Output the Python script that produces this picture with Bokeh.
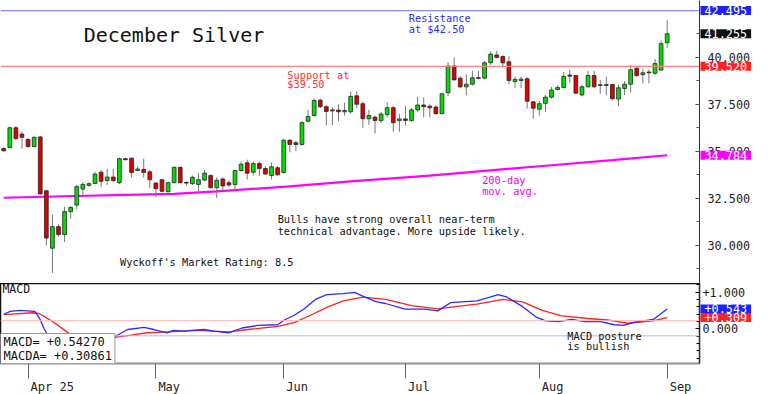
from bokeh.plotting import figure
from bokeh.layouts import column
from bokeh.models import (ColumnDataSource, Range1d, FixedTicker, Span, Label,
                          NumeralTickFormatter)
from bokeh.embed import file_html
from bokeh.resources import INLINE

# ---------------- data ----------------
month_labels = ["Apr 25", "May", "Jun", "Jul", "Aug", "Sep"]
month_start_idx = [4, 25, 46, 66, 88, 109]   # trading-day index of first session in month

opens = [35.14, 35.19, 36.25, 35.91, 35.62, 35.25, 35.76, 32.89, 29.83, 30.98,
         30.56, 31.78, 32.13, 32.98, 33.18, 33.28, 33.88, 33.44, 33.62, 33.32,
         34.60, 34.63, 33.97, 34.03, 33.90, 33.30, 33.48, 32.84, 33.32, 34.14,
         33.34, 33.27, 33.23, 33.46, 33.71, 33.06, 33.52, 33.32, 33.23, 33.97,
         34.38, 33.88, 34.34, 34.08, 33.71, 34.12, 33.87, 35.58, 35.45, 35.36,
         36.60, 36.90, 37.72, 37.37, 37.20, 37.19, 37.10, 37.10, 37.95, 37.53,
         36.73, 36.81, 36.64, 36.95, 37.32, 36.63, 36.72, 36.63, 37.20, 37.46,
         37.40, 37.35, 37.00, 38.12, 39.54, 38.89, 38.43, 38.57, 38.92, 38.89,
         39.71, 40.13, 40.05, 39.76, 38.72, 38.77, 38.86, 37.63, 37.24, 37.55,
         37.88, 38.29, 38.39, 39.06, 39.03, 38.00, 38.43, 39.03, 38.54, 38.50,
         38.55, 37.78, 38.34, 38.57, 39.42, 39.08, 39.22, 39.15, 39.32, 40.78]
closes = [35.02, 36.25, 35.67, 35.74, 35.25, 35.74, 32.72, 30.37, 30.98, 30.56,
          31.78, 32.00, 33.11, 33.23, 33.27, 33.78, 33.40, 33.62, 33.44, 34.60,
          34.55, 33.87, 34.05, 33.87, 33.48, 33.00, 32.86, 33.32, 34.14, 33.32,
          33.30, 33.61, 33.48, 33.83, 33.06, 33.45, 33.15, 33.20, 33.97, 34.31,
          33.83, 34.34, 34.08, 33.78, 34.17, 33.74, 35.58, 35.36, 35.36, 36.52,
          36.85, 37.70, 37.37, 37.12, 37.15, 37.10, 37.17, 37.92, 37.50, 36.73,
          36.90, 36.64, 36.98, 37.32, 36.52, 36.72, 36.64, 37.20, 37.46, 37.37,
          37.32, 37.00, 38.06, 39.54, 38.80, 38.43, 38.57, 38.91, 38.88, 39.71,
          40.17, 40.00, 39.71, 38.77, 38.82, 38.84, 37.66, 37.29, 37.53, 37.88,
          38.26, 38.39, 38.99, 39.00, 38.09, 38.43, 39.03, 38.43, 38.50, 38.55,
          37.80, 38.38, 38.57, 39.34, 39.03, 39.18, 39.18, 39.67, 40.73, 41.255]
highs = [35.20, 36.30, 36.32, 36.04, 35.72, 35.78, 35.80, 32.95, 31.62, 31.10,
         32.04, 32.08, 33.20, 33.35, 33.35, 33.90, 34.00, 34.05, 34.05, 34.66,
         34.66, 34.66, 34.20, 34.60, 34.00, 33.35, 33.50, 33.40, 34.17, 34.17,
         33.40, 33.70, 33.83, 34.00, 33.75, 33.60, 33.60, 33.45, 34.00, 34.45,
         34.55, 34.45, 34.45, 34.20, 34.40, 34.20, 35.65, 35.65, 35.55, 36.60,
         37.20, 37.80, 37.80, 37.45, 37.35, 37.50, 37.60, 38.17, 38.20, 37.65,
         37.20, 36.90, 37.10, 37.60, 37.40, 36.99, 37.40, 37.30, 37.90, 37.87,
         37.50, 37.45, 38.12, 39.75, 40.00, 39.00, 39.10, 39.28, 39.28, 39.82,
         40.32, 40.34, 40.10, 40.05, 38.98, 38.98, 38.94, 37.65, 37.67, 38.00,
         38.43, 38.50, 39.23, 39.35, 39.06, 38.55, 39.28, 39.28, 38.80, 38.98,
         38.60, 38.55, 38.73, 39.59, 39.47, 39.40, 39.35, 39.92, 40.90, 41.97]
lows = [34.98, 35.15, 35.60, 35.14, 35.18, 35.20, 32.70, 29.99, 28.51, 30.45,
        30.16, 31.40, 31.90, 32.70, 33.10, 33.28, 33.10, 33.20, 33.35, 33.25,
        34.50, 33.60, 33.97, 33.60, 33.05, 32.55, 32.84, 32.80, 33.30, 33.30,
        33.15, 33.20, 32.80, 33.40, 33.00, 32.50, 32.90, 33.10, 32.98, 33.90,
        33.49, 33.70, 33.70, 33.75, 33.50, 33.70, 33.80, 34.94, 35.00, 35.30,
        36.54, 36.85, 37.30, 36.39, 36.39, 36.60, 36.90, 37.00, 37.30, 36.25,
        36.40, 35.96, 36.50, 36.80, 36.04, 36.04, 36.36, 36.56, 37.10, 36.81,
        36.81, 36.95, 36.98, 37.93, 38.77, 38.36, 37.97, 38.50, 38.83, 38.83,
        39.60, 39.96, 39.45, 38.57, 38.37, 38.37, 37.27, 36.73, 36.90, 37.10,
        37.80, 38.25, 38.39, 38.63, 38.09, 37.92, 38.40, 38.38, 38.05, 37.98,
        37.70, 37.40, 37.98, 38.12, 38.97, 38.62, 38.62, 39.08, 39.32, 40.51]

# 200-day moving average (read at selected sessions)
ma_idx = [0, 10, 20, 28, 35, 46, 57, 70, 80, 90, 100, 109]
ma_val = [32.52, 32.60, 32.67, 32.73, 32.86, 33.10, 33.39, 33.70, 33.98, 34.25, 34.52, 34.784]

# MACD (blue) and MACDA (red)
macd_x = [0, 1.08, 2.69, 5.1, 5.9, 6.7, 7.51, 9.12, 11.53, 13.95, 15.55, 17.16, 17.97,
          20.38, 23.07, 24.67, 26.81, 27.89, 29.5, 32.93, 34.53, 36.95, 39.15, 41.77,
          44.99, 46.11, 47.72, 49.33, 51.21, 53.08, 55.77, 57.65, 58.99, 61.12, 62.73,
          65.95, 69.17, 71.32, 73.46, 77.76, 79.89, 81.23, 82.58, 85.25, 87.41, 89.02,
          91.16, 93.3, 95.45, 98.12, 100.27, 101.88, 103.49, 106.71, 109.0]
macd_val = [0.398, 0.476, 0.502, 0.476, 0.283, -0.018, -0.237, -0.504, -0.608, -0.530,
            -0.374, -0.278, -0.237, -0.018, 0.042, -0.018, -0.107, -0.044, -0.062, -0.018,
            -0.062, -0.107, 0.023, 0.094, 0.112, 0.242, 0.372, 0.543, 0.803, 0.933, 0.959,
            0.996, 0.892, 0.744, 0.692, 0.536, 0.536, 0.491, 0.718, 0.762, 0.866, 0.933,
            0.874, 0.606, 0.328, 0.216, 0.198, 0.257, 0.198, 0.198, 0.112, 0.094, 0.179,
            0.257, 0.543]
macda_x = [0, 4.83, 5.9, 8.04, 10.2, 11.53, 13.14, 15.55, 17.97, 20.91, 23.6, 26.28,
           31.64, 36.99, 40.21, 45.04, 47.72, 50.41, 53.08, 55.77, 58.99, 62.73, 67.03,
           71.32, 74.54, 77.76, 82.03, 85.25, 88.47, 91.69, 95.98, 99.2, 102.41, 106.71,
           109.0]
macda_val = [0.387, 0.439, 0.413, 0.198, -0.062, -0.237, -0.296, -0.270, -0.237, -0.174,
             -0.107, -0.088, -0.044, -0.081, -0.018, 0.068, 0.172, 0.372, 0.588, 0.762,
             0.866, 0.803, 0.632, 0.543, 0.614, 0.673, 0.803, 0.736, 0.502, 0.354, 0.283,
             0.242, 0.153, 0.216, 0.309]

resistance = 42.495
support = 39.52
last_close = 41.255
ma_last = 34.784
macd_last = 0.543
macda_last = 0.309
macd_text = "+0.54270"
macda_text = "+0.30861"

# ---------------- layout constants ----------------
FONT = "DejaVu Sans Mono"
FW, H1, H2, BB, RB = 699, 283, 80, 15, 53
X0, X1 = -0.53, 114.31

idx = list(range(len(opens)))
colors = ["#00e000" if c > o else "#e00000" for o, c in zip(opens, closes)]
src = ColumnDataSource(dict(x=idx, top=[max(o, c) for o, c in zip(opens, closes)],
                            bottom=[min(o, c) for o, c in zip(opens, closes)],
                            high=highs, low=lows, color=colors))

# ---------------- price panel ----------------
p = figure(frame_width=FW, frame_height=H1, x_range=Range1d(X0, X1),
           y_range=Range1d(27.95, 43.03), x_axis_location=None, y_axis_location="right",
           toolbar_location=None, output_backend="svg", min_border_left=0,
           min_border_right=RB, min_border_top=0, min_border_bottom=0,
           outline_line_color=None, background_fill_color="white")
p.grid.visible = False

p.add_layout(Span(location=resistance, dimension="width", line_color="#8a8aff", line_width=1.2))
p.add_layout(Span(location=support, dimension="width", line_color="#ff8080", line_width=1.2))

p.line(ma_idx, ma_val, line_color="#ff00ff", line_width=2.2)
p.segment(x0="x", y0="low", x1="x", y1="high", source=src, line_color="#777777", line_width=1)
p.vbar(x="x", width=0.62, top="top", bottom="bottom", source=src, fill_color="color",
       line_color="#222222", line_width=0.8)

ya = p.yaxis[0]
ya.ticker = FixedTicker(ticks=[30, 32.5, 35, 37.5, 40],
                        minor_ticks=[28.75 + 1.25 * k for k in range(12)])
ya.formatter = NumeralTickFormatter(format="0.000")
ya.major_label_text_font = FONT
ya.major_label_text_font_size = "11.8px"
ya.major_label_text_color = "#222222"
ya.major_tick_in, ya.major_tick_out = 4, 0
ya.minor_tick_in, ya.minor_tick_out = 3, 0
ya.axis_line_color = "#333333"
ya.major_tick_line_color = "#333333"
ya.minor_tick_line_color = "#555555"
ya.major_label_standoff = 8


def note(fig, x, y, text, color="#111111", size="10.3px"):
    fig.add_layout(Label(x=x, y=y, text=text, text_color=color, text_font=FONT,
                         text_font_size=size, text_align="left", text_baseline="middle"))


def tag(fig, y, text, bg):
    # value box drawn over the right-hand axis (placed in the side panel so it is not clipped)
    fig.add_layout(Label(x=X1, y=y, x_offset=1, text=text, text_color="white",
                         text_font=FONT, text_font_size="11.8px", text_align="left",
                         text_baseline="middle", background_fill_color=bg,
                         padding=(4, 0)), "right")


note(p, 13.14, 41.19, "December Silver", "#111111", "20px")
note(p, 66.54, 42.11, "Resistance", "#2a2aff")
note(p, 66.54, 41.52, "at $42.50", "#2a2aff")
note(p, 46.6, 39.07, "Support at", "#ff3030")
note(p, 46.6, 38.58, "$39.50", "#ff3030")
note(p, 78.6, 33.47, "200-day", "#ee00ee")
note(p, 78.6, 32.88, "mov. avg.", "#ee00ee")
note(p, 45.0, 31.37, "Bulls have strong overall near-term")
note(p, 45.0, 30.76, "technical advantage. More upside likely.")
note(p, 19.1, 29.07, "Wyckoff's Market Rating: 8.5")

tag(p, resistance, f"{resistance:.3f}", "#2020ff")
tag(p, last_close, f"{last_close:.3f}", "#111111")
tag(p, support, f"{support:.3f}", "#ff2020")
tag(p, ma_last, f"{ma_last:.3f}", "#ff00ff")

# ---------------- MACD panel ----------------
q = figure(frame_width=FW, frame_height=H2, x_range=p.x_range, y_range=Range1d(-0.946, 1.238),
           x_axis_location="below", y_axis_location="right", toolbar_location=None,
           output_backend="svg", min_border_left=0, min_border_right=RB, min_border_top=0,
           min_border_bottom=BB, outline_line_color="#111111", outline_line_width=1.5)
q.grid.visible = False
q.add_layout(Span(location=0.224, dimension="width", line_color="#ffb8b8", line_width=1))
q.add_layout(Span(location=-0.19, dimension="width", line_color="#b8b8ff", line_width=1))
q.line(macda_x, macda_val, line_color="#ff2020", line_width=1.3)
q.line(macd_x, macd_val, line_color="#2b2bff", line_width=1.3)

qy = q.yaxis[0]
qy.ticker = FixedTicker(ticks=[0, 1], minor_ticks=[-0.8 + 0.2 * k for k in range(11)])
qy.major_label_overrides = {0: "0.000", 1: "+1.000"}
qy.major_label_text_font = FONT
qy.major_label_text_font_size = "11.8px"
qy.major_label_text_color = "#222222"
qy.major_tick_in, qy.major_tick_out = 4, 0
qy.minor_tick_in, qy.minor_tick_out = 3, 0
qy.axis_line_color = "#333333"
qy.major_label_standoff = 3

pxi = FW / (X1 - X0)
centers = [round(s + (len(t) * 0.602 * 12 / 2 + 2.5) / pxi, 2)
           for s, t in zip(month_start_idx, month_labels)]
qx = q.xaxis[0]
qx.ticker = FixedTicker(ticks=centers, minor_ticks=month_start_idx)
qx.major_label_overrides = {c: t for c, t in zip(centers, month_labels)}
qx.major_label_text_font = FONT
qx.major_label_text_font_size = "12px"
qx.major_label_text_color = "#222222"
qx.major_tick_in, qx.major_tick_out = 0, 0
qx.minor_tick_in, qx.minor_tick_out = 0, 15
qx.minor_tick_line_color = "#666666"
qx.axis_line_color = "#999999"
qx.major_label_standoff = 1

note(q, -0.21, 1.082, "MACD", "#111111", "11.5px")
note(q, 92.6, -0.192, "MACD posture")
note(q, 92.6, -0.465, "is bullish")
q.add_layout(Label(x=X0, y=-0.946, text=f"MACD=  {macd_text}\nMACDA= {macda_text}",
                   text_color="#111111", text_font=FONT, text_font_size="12px",
                   text_align="left", text_baseline="bottom", text_line_height=1.0,
                   background_fill_color="white", border_line_color="#999999",
                   padding=(3, 1)))
tag(q, macd_last, f"+{macd_last:.3f}", "#2020ff")
tag(q, macda_last, f"+{macda_last:.3f}", "#ff2020")

layout = column(p, q, spacing=0)
open("out.html", "w").write(file_html(layout, INLINE))
